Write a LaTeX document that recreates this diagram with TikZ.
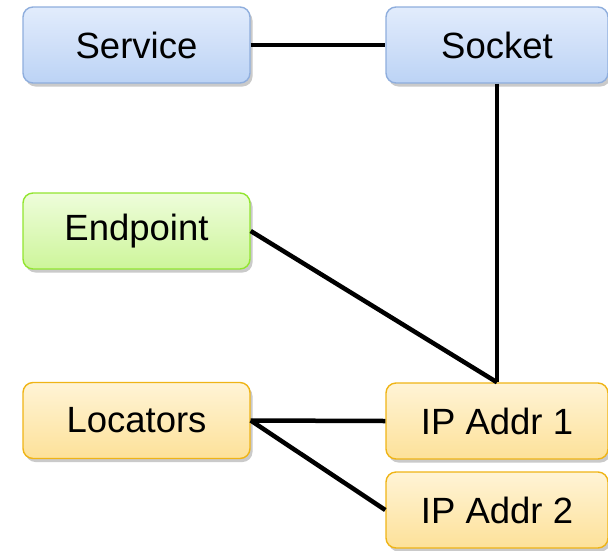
\documentclass[tikz,border=0pt]{standalone}
\usepackage{fontspec}
\setmainfont{Liberation Sans}
\usetikzlibrary{shadows}
\definecolor{bluetop}{HTML}{E2ECFC}
\definecolor{bluebot}{HTML}{BCD3F5}
\definecolor{blueline}{HTML}{8FAEDD}
\definecolor{greentop}{HTML}{EEFDDB}
\definecolor{greenbot}{HTML}{CDF59A}
\definecolor{greenline}{HTML}{92E530}
\definecolor{orangetop}{HTML}{FFF4D6}
\definecolor{orangebot}{HTML}{FDE199}
\definecolor{orangeline}{HTML}{EFB416}
\tikzset{
  box/.style={rounded corners=10pt, line width=1.4pt, minimum height=76pt,
    inner sep=0pt, font=\fontsize{36.5}{40}\selectfont, text=black,
    drop shadow={shadow xshift=2.5pt, shadow yshift=-3.5pt, fill=black!35, opacity=0.6}},
  bluebox/.style={box, draw=blueline, top color=bluetop, bottom color=bluebot},
  greenbox/.style={box, draw=greenline, top color=greentop, bottom color=greenbot},
  orangebox/.style={box, draw=orangeline, top color=orangetop, bottom color=orangebot},
  conn/.style={line width=4.5pt, black}
}
\begin{document}
\begin{tikzpicture}[x=1pt, y=-1pt]
\useasboundingbox (0,0) rectangle (608,550);
\node[bluebox, minimum width=227pt] (service) at (136.5,45) {Service};
\node[bluebox, minimum width=222pt] (socket) at (497,45) {Socket};
\node[greenbox, minimum width=227pt] (endpoint) at (136.5,231) {Endpoint};
\node[orangebox, minimum width=227pt] (locators) at (136.5,420.5) {Locators};
\node[orangebox, minimum width=222pt] (ip1) at (497,421) {IP Addr 1};
\node[orangebox, minimum width=222pt] (ip2) at (497,510) {IP Addr 2};
\draw[conn] (service.east) -- (socket.west);
\draw[conn] (socket.south) -- (ip1.north);
\draw[conn] (endpoint.east) -- (ip1.north);
\draw[conn] (locators.east) -- (ip1.west);
\draw[conn] (locators.east) -- (ip2.west);
\end{tikzpicture}
\end{document}
